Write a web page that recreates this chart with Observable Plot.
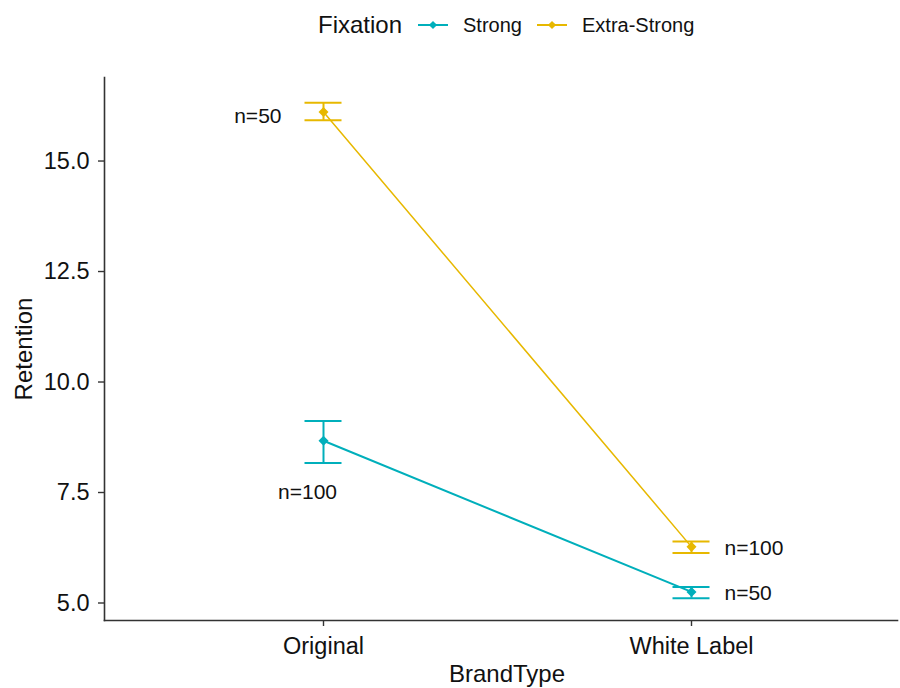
<!DOCTYPE html>
<html>
<head>
<meta charset="utf-8">
<script src="https://cdn.jsdelivr.net/npm/d3@7"></script>
<script src="https://cdn.jsdelivr.net/npm/@observablehq/plot@0.6"></script>
<style>
  body { margin: 0; background: #fff; font-family: "Liberation Sans", Arial, sans-serif; }
  #legend { width: 900px; height: 50px; display: block; }
</style>
</head>
<body>
<svg id="legend" width="900" height="50"></svg>
<div id="chart"></div>
<script>
// ---- data ----
const brandTypes = ["Original", "White Label"];
const fixations = ["Strong", "Extra-Strong"];
const fixationColors = ["#00AFBB", "#E7B800"];
const strongMean = [8.67, 5.25];
const strongLow = [8.17, 5.11];
const strongHigh = [9.12, 5.36];
const strongN = [100, 50];
const extraMean = [16.11, 6.27];
const extraLow = [15.92, 6.13];
const extraHigh = [16.32, 6.39];
const extraN = [50, 100];
const yTicks = [5.0, 7.5, 10.0, 12.5, 15.0];

// ---- build table ----
const rows = [];
brandTypes.forEach((b, i) => {
  rows.push({brand: b, fix: "Strong", mean: strongMean[i], low: strongLow[i], high: strongHigh[i], n: strongN[i]});
  rows.push({brand: b, fix: "Extra-Strong", mean: extraMean[i], low: extraLow[i], high: extraHigh[i], n: extraN[i]});
});
const colorOf = f => fixationColors[fixations.indexOf(f)];
const strongRows = rows.filter(d => d.fix === "Strong");
const extraRows = rows.filter(d => d.fix === "Extra-Strong");

// label placement groups
const labelOrigExtra = rows.filter(d => d.brand === "Original" && d.fix === "Extra-Strong");
const labelOrigStrong = rows.filter(d => d.brand === "Original" && d.fix === "Strong");
const labelWhite = rows.filter(d => d.brand === "White Label");

const font = "'Liberation Sans', Arial, sans-serif";

// ---- legend ----
const leg = d3.select("#legend").style("font-family", font);
leg.append("text").attr("x", 318).attr("y", 25).attr("dy", "0.35em")
  .attr("font-size", 24).attr("fill", "#111").text("Fixation");
const legX = [418, 537];
fixations.forEach((f, i) => {
  const g = leg.append("g").attr("transform", `translate(${legX[i]},25)`);
  g.append("line").attr("x1", 0).attr("x2", 30).attr("y1", 0).attr("y2", 0)
    .attr("stroke", fixationColors[i]).attr("stroke-width", 2);
  g.append("path").attr("d", d3.symbol(d3.symbolSquare, 34)()).attr("transform", "translate(15,0) rotate(45)")
    .attr("fill", fixationColors[i]);
  g.append("text").attr("x", 45).attr("y", 0).attr("dy", "0.35em")
    .attr("font-size", 20).attr("fill", "#111").text(f);
});

// ---- chart ----
const chart = Plot.plot({
  width: 900,
  height: 638,
  marginTop: 27,
  marginBottom: 68,
  marginLeft: 104,
  marginRight: 3,
  style: {fontFamily: font, color: "#111", background: "#fff", overflow: "visible"},
  x: {type: "point", domain: brandTypes, range: [323, 691], padding: 0, label: null},
  y: {domain: [4.604, 16.89], label: null},
  marks: [
    Plot.frame({anchor: "left", stroke: "#333", strokeWidth: 1.6}),
    Plot.frame({anchor: "bottom", stroke: "#333", strokeWidth: 1.6}),
    Plot.axisY({ticks: yTicks, tickFormat: d3.format(".1f"), tickSize: 6, tickPadding: 9, fontSize: 23.5, stroke: "#333", strokeWidth: 1.4, label: null}),
    Plot.axisX({tickSize: 6, tickPadding: 11, fontSize: 23.5, stroke: "#333", strokeWidth: 1.4, label: null}),
    Plot.text(["Retention"], {frameAnchor: "left", text: d => d, rotate: -90, textAnchor: "middle", lineAnchor: "middle", dx: -80, fontSize: 24, fill: "#111"}),
    Plot.text(["BrandType"], {frameAnchor: "bottom", text: d => d, textAnchor: "middle", lineAnchor: "middle", dy: 54, dx: 6, fontSize: 24, fill: "#111"}),
    // lines
    Plot.line(extraRows, {x: "brand", y: "mean", stroke: d => colorOf(d.fix), strokeWidth: 1.5}),
    Plot.line(strongRows, {x: "brand", y: "mean", stroke: d => colorOf(d.fix), strokeWidth: 2}),
    // error bars
    Plot.ruleX(rows, {x: "brand", y1: "low", y2: "high", stroke: d => colorOf(d.fix), strokeWidth: 2}),
    Plot.ruleY(rows, {y: "low", x1: "brand", x2: "brand", insetLeft: -18.5, insetRight: -18.5, stroke: d => colorOf(d.fix), strokeWidth: 2}),
    Plot.ruleY(rows, {y: "high", x1: "brand", x2: "brand", insetLeft: -18.5, insetRight: -18.5, stroke: d => colorOf(d.fix), strokeWidth: 2}),
    Plot.dot(rows, {x: "brand", y: "mean", symbol: "square", rotate: 45, r: 4, fill: d => colorOf(d.fix), stroke: "none"}),
    // n labels
    Plot.text(labelOrigExtra, {x: "brand", y: "mean", text: d => `n=${d.n}`, textAnchor: "end", dx: -42, dy: 4, fontSize: 21, fill: "#111"}),
    Plot.text(labelOrigStrong, {x: "brand", y: "mean", text: d => `n=${d.n}`, textAnchor: "middle", dx: -16, dy: 51, fontSize: 21, fill: "#111"}),
    Plot.text(labelWhite, {x: "brand", y: "mean", text: d => `n=${d.n}`, textAnchor: "start", dx: 33, dy: 1, fontSize: 21, fill: "#111"})
  ]
});
document.getElementById("chart").appendChild(chart);
</script>
</body>
</html>
